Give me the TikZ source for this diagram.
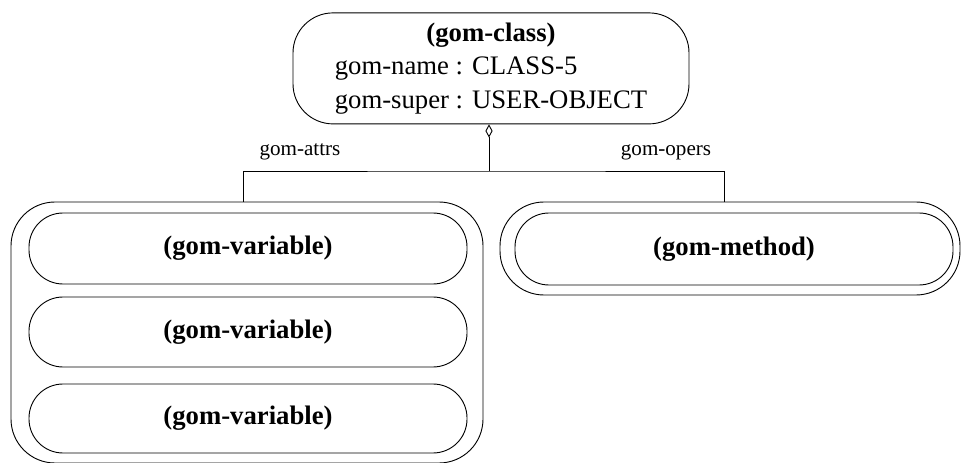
\documentclass[tikz,border=0pt]{standalone}
\usepackage{fontspec}
\setmainfont{Liberation Serif}
\usepackage{tikz}
\usetikzlibrary{arrows.meta,positioning}
\tikzset{
  link/.style={black,line width=0.65pt},
  roundbox/.style={draw=black,line width=0.65pt,inner sep=0pt,align=center,
                   font=\fontsize{19}{23.5}\selectfont},
  classbox/.style={roundbox,rounded corners=1.0cm},
  holder/.style={roundbox,rounded corners=1.1cm},
  item/.style={roundbox,rounded corners=0.85cm,font=\fontsize{19}{23.5}\selectfont\bfseries},
  lab/.style={font=\fontsize{15}{18}\selectfont,anchor=base},
}
\begin{document}
\begin{tikzpicture}[x=1cm,y=1cm]
  \path[use as bounding box] (0,0) rectangle (24.025,11.55);

  \node[classbox,minimum width=9.9cm,minimum height=2.775cm] (class) at (12.275,9.84)
    {\begin{tabular}{@{}l@{}}
       \multicolumn{1}{@{}c@{}}{\textbf{(gom-class)}}\\
       gom-name : CLASS-5\\
       gom-super : USER-OBJECT
     \end{tabular}};

  \coordinate (hub) at (12.225,7.275);

  % attribute container with its variables
  \node[holder,minimum width=11.8cm,minimum height=6.525cm] (attrs) at (6.175,3.2375) {};
  \node[item,minimum width=10.95cm,minimum height=1.775cm] (var1) at (6.2,5.3375) {(gom-variable)};
  \node[item,minimum width=10.95cm,minimum height=1.75cm] (var2) at (6.2,3.25) {(gom-variable)};
  \node[item,minimum width=10.95cm,minimum height=1.725cm] (var3) at (6.2,1.0875) {(gom-variable)};

  % operation container with its method
  \node[holder,minimum width=11.5cm,minimum height=2.325cm] (opers) at (18.25,5.3375) {};
  \node[item,minimum width=10.95cm,minimum height=1.8cm] (method) at (18.35,5.325) {(gom-method)};

  \draw[link,{Diamond[open,length=3.3mm,width=1.8mm]}-] (class.south -| hub) -- (hub);
  \draw[link] ([xshift=-1mm]attrs.north) |- (hub) -| ([xshift=-1.5mm]opers.north);

  \node[lab] (lblattrs) at (7.5,7.65) {gom-attrs};
  \node[lab] (lblopers) at (16.65,7.65) {gom-opers};
\end{tikzpicture}
\end{document}
